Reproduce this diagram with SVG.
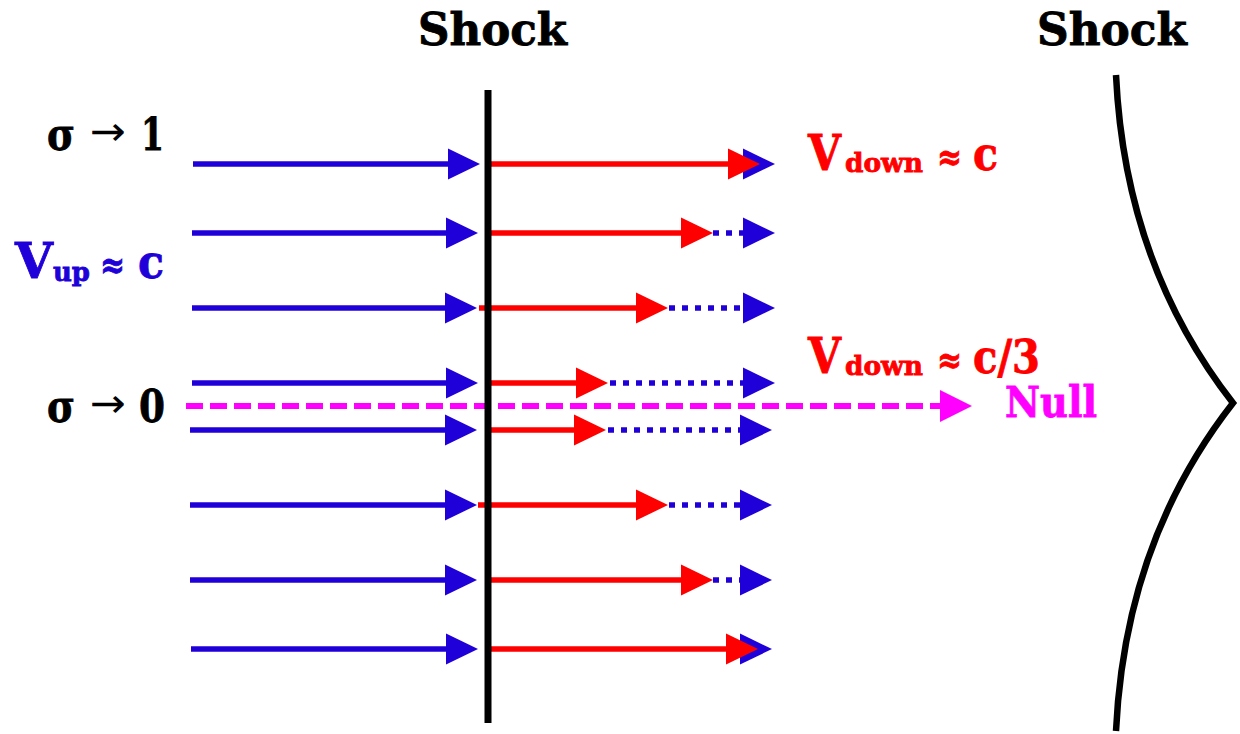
<svg xmlns="http://www.w3.org/2000/svg" width="1240" height="734" viewBox="0 0 1240 734">
<style>
  .t { font-family: "DejaVu Serif", "Liberation Serif", serif; font-weight: bold; stroke-width: 0.8; }
  .ar { font-family: "DejaVu Sans", sans-serif; font-weight: normal; }
  .blk { fill: #000; stroke: #000; }
  .blu { fill: #2000D8; stroke: #2000D8; }
  .red { fill: #FF0000; stroke: #FF0000; }
  .mag { fill: #FF00FF; stroke: #FF00FF; }
  .ar.blk { stroke: none; }
  .up { stroke: #2000D8; stroke-width: 5.5; fill: none; }
  .dot { stroke: #2000D8; stroke-width: 5.5; fill: none; stroke-dasharray: 6 7; }
  .dn { stroke: #FF0000; stroke-width: 5.5; fill: none; }
  .nul { stroke: #FF00FF; stroke-width: 6; fill: none; stroke-dasharray: 17 7; }
</style>
<defs>
  <marker id="hb" markerUnits="userSpaceOnUse" viewBox="0 0 32 31" markerWidth="32" markerHeight="31" refX="12" refY="15.5" orient="auto" overflow="visible">
    <path d="M0,0 L32,15.5 L0,31 Z" fill="#2000D8"/>
  </marker>
  <marker id="hr" markerUnits="userSpaceOnUse" viewBox="0 0 32 31" markerWidth="32" markerHeight="31" refX="12" refY="15.5" orient="auto" overflow="visible">
    <path d="M0,0 L32,15.5 L0,31 Z" fill="#FF0000"/>
  </marker>
  <marker id="hm" markerUnits="userSpaceOnUse" viewBox="0 0 32 32" markerWidth="32" markerHeight="32" refX="12" refY="16" orient="auto" overflow="visible">
    <path d="M0,0 L32,16 L0,32 Z" fill="#FF00FF"/>
  </marker>
</defs>
<rect width="1240" height="734" fill="#fff"/>

<g id="connectors">
  <line class="nul" x1="186" y1="406" x2="952" y2="406" marker-end="url(#hm)"/>
  <line class="up" x1="193" y1="164" x2="460" y2="164" marker-end="url(#hb)"/>
  <line class="up" x1="192" y1="233" x2="458" y2="233" marker-end="url(#hb)"/>
  <line class="up" x1="192" y1="308" x2="457" y2="308" marker-end="url(#hb)"/>
  <line class="up" x1="192" y1="383" x2="458" y2="383" marker-end="url(#hb)"/>
  <line class="up" x1="190" y1="430" x2="457" y2="430" marker-end="url(#hb)"/>
  <line class="up" x1="190" y1="505" x2="457" y2="505" marker-end="url(#hb)"/>
  <line class="up" x1="190" y1="580" x2="457" y2="580" marker-end="url(#hb)"/>
  <line class="up" x1="191" y1="649" x2="458" y2="649" marker-end="url(#hb)"/>
  <line class="up" x1="740" y1="164" x2="755" y2="164" marker-end="url(#hb)"/>
  <line class="dot" x1="713" y1="233" x2="755" y2="233" marker-end="url(#hb)"/>
  <line class="dot" x1="669" y1="308" x2="755" y2="308" marker-end="url(#hb)"/>
  <line class="dot" x1="610" y1="383" x2="755" y2="383" marker-end="url(#hb)"/>
  <line class="dot" x1="608" y1="430" x2="752" y2="430" marker-end="url(#hb)"/>
  <line class="dot" x1="669" y1="505" x2="752" y2="505" marker-end="url(#hb)"/>
  <line class="dot" x1="713" y1="580" x2="752" y2="580" marker-end="url(#hb)"/>
  <line class="up" x1="738" y1="649" x2="752" y2="649" marker-end="url(#hb)"/>
  <line class="dn" x1="489" y1="164" x2="740" y2="164" marker-end="url(#hr)"/>
  <line class="dn" x1="489" y1="233" x2="693" y2="233" marker-end="url(#hr)"/>
  <line class="dn" x1="479" y1="308" x2="648" y2="308" marker-end="url(#hr)"/>
  <line class="dn" x1="486" y1="383" x2="588" y2="383" marker-end="url(#hr)"/>
  <line class="dn" x1="485" y1="430" x2="586" y2="430" marker-end="url(#hr)"/>
  <line class="dn" x1="478" y1="505" x2="648" y2="505" marker-end="url(#hr)"/>
  <line class="dn" x1="485" y1="580" x2="693" y2="580" marker-end="url(#hr)"/>
  <line class="dn" x1="485" y1="649" x2="738" y2="649" marker-end="url(#hr)"/>
</g>

<g id="shock-plane">
  <line x1="488" y1="90" x2="488" y2="723" stroke="#000" stroke-width="7"/>
</g>
<g id="shock-curved">
  <path d="M1116,75 Q1125,265 1233,403 Q1125,541 1116,731" fill="none" stroke="#000" stroke-width="6.5" stroke-linejoin="miter" stroke-miterlimit="10"/>
</g>

<g id="label-shock-1">
  <text class="t blk" x="418" y="45" font-size="44" textLength="149" lengthAdjust="spacingAndGlyphs">Shock</text>
</g>
<g id="label-shock-2">
  <text class="t blk" x="1037" y="45" font-size="44" textLength="150" lengthAdjust="spacingAndGlyphs">Shock</text>
</g>

<g id="label-sigma-1">
  <text class="t blk" x="47" y="150" font-size="44" textLength="28" lengthAdjust="spacingAndGlyphs">σ</text>
  <text class="ar blk" x="90" y="145" font-size="40" textLength="36" lengthAdjust="spacingAndGlyphs">→</text>
  <text class="t blk" x="141" y="150" font-size="44" textLength="23" lengthAdjust="spacingAndGlyphs">1</text>
</g>
<g id="label-sigma-0">
  <text class="t blk" x="47" y="422" font-size="44" textLength="28" lengthAdjust="spacingAndGlyphs">σ</text>
  <text class="ar blk" x="90" y="417" font-size="40" textLength="36" lengthAdjust="spacingAndGlyphs">→</text>
  <text class="t blk" x="139" y="422" font-size="44" textLength="26" lengthAdjust="spacingAndGlyphs">0</text>
</g>

<g id="label-vup">
  <text class="t blu" x="15" y="278" font-size="48" textLength="38" lengthAdjust="spacingAndGlyphs">V</text>
  <text class="t blu" x="53" y="281" font-size="26" textLength="37" lengthAdjust="spacingAndGlyphs">up</text>
  <text class="t blu" x="100" y="278" font-size="38" textLength="25" lengthAdjust="spacingAndGlyphs">≈</text>
  <text class="t blu" x="138" y="278" font-size="46" textLength="26" lengthAdjust="spacingAndGlyphs">c</text>
</g>

<g id="label-vdown-c">
  <text class="t red" x="808" y="170" font-size="48" textLength="33" lengthAdjust="spacingAndGlyphs">V</text>
  <text class="t red" x="845" y="172" font-size="26" textLength="78" lengthAdjust="spacingAndGlyphs">down</text>
  <text class="t red" x="937" y="170" font-size="38" textLength="25" lengthAdjust="spacingAndGlyphs">≈</text>
  <text class="t red" x="973" y="170" font-size="46" textLength="25" lengthAdjust="spacingAndGlyphs">c</text>
</g>

<g id="label-vdown-c3">
  <text class="t red" x="808" y="373" font-size="48" textLength="33" lengthAdjust="spacingAndGlyphs">V</text>
  <text class="t red" x="845" y="375" font-size="26" textLength="78" lengthAdjust="spacingAndGlyphs">down</text>
  <text class="t red" x="937" y="373" font-size="38" textLength="25" lengthAdjust="spacingAndGlyphs">≈</text>
  <text class="t red" x="973" y="373" font-size="46" textLength="67" lengthAdjust="spacingAndGlyphs">c/3</text>
</g>

<g id="label-null">
  <text class="t mag" x="1005" y="417" font-size="42" textLength="92" lengthAdjust="spacingAndGlyphs">Null</text>
</g>
</svg>
